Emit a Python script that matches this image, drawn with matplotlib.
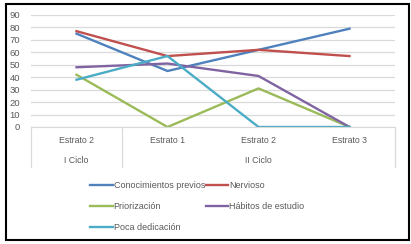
import matplotlib
matplotlib.use("Agg")
import matplotlib.pyplot as plt
from matplotlib.patches import Rectangle

# datos
estratos = ["Estrato 2", "Estrato 1", "Estrato 2", "Estrato 3"]
ciclos = ["I Ciclo", "II Ciclo"]
conocimientos = [75, 45, 62, 79]
nervioso = [77, 57, 62, 57]
priorizacion = [42, 0, 31, 0]
habitos = [48, 51, 41, 0]
poca = [38, 57, 0, 0]

plt.rcParams['font.family'] = ['Liberation Sans', 'DejaVu Sans']
gris = "#595959"

fig = plt.figure(figsize=(4.11, 2.44), dpi=100)
ax = fig.add_axes([31/411, 1-127/244, (395-31)/411, 112/244])

x = range(len(estratos))
l1, = ax.plot(x, conocimientos, color="#4F81BD", lw=1.7, label="Conocimientos previos")
l2, = ax.plot(x, nervioso, color="#C0504D", lw=1.7, label="Nervioso")
l3, = ax.plot(x, priorizacion, color="#9BBB59", lw=1.7, label="Priorización")
l4, = ax.plot(x, habitos, color="#8064A2", lw=1.7, label="Hábitos de estudio")
l5, = ax.plot(x, poca, color="#4BACC6", lw=1.7, label="Poca dedicación")

ax.set_xlim(-0.5, 3.5)
ax.set_ylim(0, 90)
ax.set_yticks(range(0, 91, 10))
ax.yaxis.grid(True, color="#D9D9D9", lw=0.9)
ax.set_axisbelow(True)
for s in ["top", "right", "left"]:
    ax.spines[s].set_visible(False)
ax.spines["bottom"].set_color("#D9D9D9")
ax.tick_params(axis="y", length=0, labelsize=6.8, labelcolor=gris, pad=8)
ax.set_xticks([])

# eje de categorias en dos niveles
tr = ax.get_xaxis_transform()
for xv in [-0.5, 0.5, 3.5]:
    ax.plot([xv, xv], [0, -0.36], color="#D9D9D9", lw=0.9, transform=tr, clip_on=False)
for i, e in enumerate(estratos):
    ax.text(i, -0.12, e, transform=tr, ha="center", va="center", fontsize=6.3, color=gris)
ax.text(0, -0.30, ciclos[0], transform=tr, ha="center", va="center", fontsize=6.3, color=gris)
ax.text(2, -0.30, ciclos[1], transform=tr, ha="center", va="center", fontsize=6.3, color=gris)

fig.legend(handles=[l1, l3, l5, l2, l4], ncol=2, loc="upper left",
           bbox_to_anchor=(82/411, 1-173/244), frameon=False, fontsize=6.5,
           labelcolor=gris, handlelength=2.5, handletextpad=0.1,
           labelspacing=1.35, columnspacing=0.1)

fig.patches.append(Rectangle((6/411, 4/244), 403/411, 236/244, transform=fig.transFigure,
                             fill=False, edgecolor="black", lw=1.5))

fig.savefig("out.png", dpi=100)
